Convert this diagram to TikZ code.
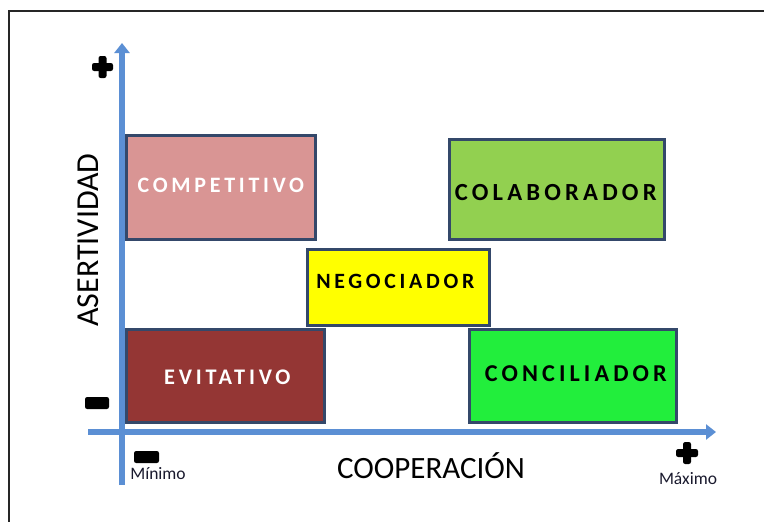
\documentclass[tikz,border=0pt]{standalone}
\usepackage{fontspec}
\setmainfont{Carlito}
\usetikzlibrary{arrows.meta}
\definecolor{axisblue}{HTML}{5B8FD4}
\definecolor{boxedge}{HTML}{34486A}
\definecolor{compfill}{HTML}{D99594}
\definecolor{colabfill}{HTML}{92D050}
\definecolor{evitfill}{HTML}{943634}
\definecolor{concfill}{HTML}{22EE3C}
\definecolor{negfill}{HTML}{FFFF00}
\definecolor{labelink}{HTML}{1A1A2E}
\tikzset{
  stylebox/.style={draw=boxedge, line width=2.6pt, inner sep=0pt, anchor=north west},
  boxtext/.style={inner sep=0pt, font=\fontsize{#1}{26}\selectfont\bfseries\addfontfeatures{LetterSpace=17}},
  axisline/.style={draw=axisblue, line width=5.5pt,
    -{Triangle[width=15pt,length=10pt]}},
  axistitle/.style={text=black, inner sep=0pt},
  endlabel/.style={font=\fontsize{17.5}{20}\selectfont, text=labelink, inner sep=0pt},
  signbar/.style={fill=black, rounded corners=2.2pt},
}
\begin{document}
\begin{tikzpicture}[x=1pt,y=-1pt]
\useasboundingbox (0,0) rectangle (764,522);
\fill[white] (0,0) rectangle (764,522);
% outer frame (top and left edges visible)
\draw[line width=2pt, black!85] (9,800) -- (9,11) -- (900,11);

% boxes
\node[stylebox, fill=compfill, minimum width=189pt, minimum height=104pt] (comp) at (125,134) {};
\node[boxtext=22, text=white] (compt) at ([yshift=1.5pt]comp.center) {COMPETITIVO};
\node[stylebox, fill=colabfill, minimum width=215pt, minimum height=100pt] (colab) at (448,138) {};
\node[boxtext=24.6] (colabt) at ([yshift=-3pt,xshift=-1pt]colab.center) {COLABORADOR};
\node[stylebox, fill=negfill, minimum width=182pt, minimum height=76pt] (neg) at (306,248) {};
\node[boxtext=21.8] (negt) at ([yshift=6pt,xshift=-3pt]neg.center) {NEGOCIADOR};
\node[stylebox, fill=evitfill, minimum width=198pt, minimum height=93pt] (evit) at (125,328) {};
\node[boxtext=22.3, text=white] (evitt) at ([yshift=-1.5pt,xshift=2pt]evit.center) {EVITATIVO};
\node[stylebox, fill=concfill, minimum width=207pt, minimum height=93pt] (conc) at (468,328) {};
\node[boxtext=24.2] (conct) at ([yshift=2.5pt,xshift=3pt]conc.center) {CONCILIADOR};

% axes
\coordinate (ybot) at (122,485);
\coordinate (ytop) at (122,43);
\coordinate (xleft) at (88,432);
\coordinate (xright) at (716,432);
\draw[axisline] (ybot) -- (ytop);
\draw[axisline] (xleft) -- (xright);

% axis titles
\node[axistitle, rotate=90, font=\fontsize{32}{36}\selectfont] (asert) at (88,240) {ASERTIVIDAD};
\node[axistitle, font=\fontsize{31}{34}\selectfont] (coop) at (431,466) {COOPERACIÓN};
\node[endlabel, anchor=base] (minimo) at (158,479) {Mínimo};
\node[endlabel, anchor=base] (maximo) at (688,484) {Máximo};

% signs
\fill[signbar] (85,397) rectangle (109,409);
\fill[signbar] (134,451) rectangle (159,463);
\fill[signbar] (92,63) rectangle (113,71);
\fill[signbar] (98.5,56) rectangle (106.5,78);
\fill[signbar] (676,449) rectangle (698,457);
\fill[signbar] (683,442) rectangle (691,464);
\end{tikzpicture}
\end{document}
